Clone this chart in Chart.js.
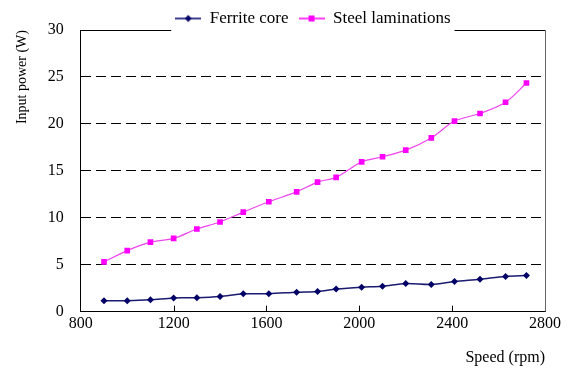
<!DOCTYPE html>
<html>
<head>
<meta charset="utf-8">
<script src="https://cdn.jsdelivr.net/npm/chart.js@4"></script>
<style>
  html, body { margin: 0; padding: 0; background: #fff; }
  #wrap { width: 571px; height: 369px; }
</style>
</head>
<body>
<div id="wrap"><canvas id="chart" width="571" height="369"></canvas></div>
<script>
const speeds = [900, 1000, 1100, 1200, 1300, 1400, 1500, 1610, 1730, 1820, 1900, 2010, 2100, 2200, 2310, 2410, 2520, 2630, 2720];
const ferriteCore = [1.15, 1.15, 1.25, 1.45, 1.47, 1.6, 1.9, 1.9, 2.07, 2.15, 2.4, 2.6, 2.7, 3.0, 2.9, 3.2, 3.45, 3.75, 3.85];
const steelLaminations = [5.3, 6.5, 7.4, 7.8, 8.8, 9.55, 10.6, 11.7, 12.75, 13.8, 14.3, 15.95, 16.5, 17.2, 18.5, 20.3, 21.1, 22.3, 24.35];
const xTicks = [800, 1200, 1600, 2000, 2400, 2800];
const yTicks = [0, 5, 10, 15, 20, 25, 30];

const serif = '"Liberation Serif", "Times New Roman", serif';

// legend icon: short line with the marker in the middle
function legendIcon(color, style) {
  const c = document.createElement('canvas');
  c.width = 26; c.height = 10;
  const g = c.getContext('2d');
  g.strokeStyle = color;
  g.lineWidth = 1.5;
  g.beginPath(); g.moveTo(0, 5); g.lineTo(26, 5); g.stroke();
  g.fillStyle = color;
  if (style === 'diamond') {
    g.beginPath(); g.moveTo(13, 1.5); g.lineTo(16.5, 5); g.lineTo(13, 8.5); g.lineTo(9.5, 5); g.closePath(); g.fill();
  } else {
    g.fillRect(10, 2, 6, 6);
  }
  return c;
}

function toPoints(ys) {
  return speeds.map((s, i) => ({ x: s, y: ys[i] }));
}

// legend overlaps the top edge of the plot, so keep its box short
const legendHeight = {
  id: 'legendHeight',
  afterInit(chart) {
    const lg = chart.legend;
    const fit = lg.fit;
    lg.fit = function () { fit.call(this); this.height = 30; };
  }
};

// box round the plot; top edge is broken where the legend sits
const frame = {
  id: 'frame',
  afterDatasetsDraw(chart) {
    const { ctx, chartArea: a } = chart;
    const xs = chart.scales.x;
    ctx.save();
    ctx.strokeStyle = '#000';
    ctx.lineWidth = 1;
    // inner x tick marks
    xTicks.slice(1, -1).forEach(v => {
      const px = Math.round(xs.getPixelForValue(v)) + 0.5;
      ctx.beginPath(); ctx.moveTo(px, a.bottom); ctx.lineTo(px, a.bottom - 6); ctx.stroke();
    });
    const boxes = chart.legend.legendHitBoxes;
    const gapL = boxes[0].left - 4;
    const last = boxes[boxes.length - 1];
    const gapR = last.left + last.width + 4;
    const top = Math.round(a.top) + 0.5;
    ctx.beginPath();
    ctx.moveTo(a.left, top); ctx.lineTo(gapL, top);
    ctx.moveTo(gapR, top); ctx.lineTo(a.right, top);
    ctx.stroke();
    ctx.strokeStyle = '#666';
    ctx.beginPath();
    ctx.moveTo(Math.round(a.right) + 0.5, a.top); ctx.lineTo(Math.round(a.right) + 0.5, a.bottom);
    ctx.stroke();
    ctx.restore();
  }
};

new Chart(document.getElementById('chart'), {
  type: 'line',
  data: {
    datasets: [{
      label: 'Ferrite core',
      data: toPoints(ferriteCore),
      borderColor: '#1a1a70',
      backgroundColor: '#000066',
      borderWidth: 1.5,
      pointStyle: 'rectRot',
      pointRadius: 3.5,
      pointBorderWidth: 0,
      tension: 0.3
    }, {
      label: 'Steel laminations',
      data: toPoints(steelLaminations),
      borderColor: '#ee44ee',
      backgroundColor: '#ff00ff',
      borderWidth: 1.2,
      pointStyle: 'rect',
      pointRadius: 4,
      pointBorderWidth: 0,
      tension: 0.3
    }]
  },
  plugins: [legendHeight, frame],
  options: {
    responsive: false,
    animation: false,
    layout: { padding: { left: 14, right: 26, top: 0, bottom: 2 } },
    plugins: {
      tooltip: { enabled: false },
      legend: {
        position: 'top',
        fullSize: false,
        labels: {
          font: { family: serif, size: 17 },
          color: '#000',
          usePointStyle: true,
          pointStyleWidth: 26,
          padding: 10,
          generateLabels(chart) {
            return [
              { text: 'Ferrite core', pointStyle: legendIcon('#000066', 'diamond'), datasetIndex: 0, hidden: false, lineWidth: 0 },
              { text: 'Steel laminations', pointStyle: legendIcon('#ff00ff', 'square'), datasetIndex: 1, hidden: false, lineWidth: 0 }
            ];
          }
        }
      }
    },
    scales: {
      x: {
        type: 'linear',
        min: 800,
        max: 2800,
        afterBuildTicks(scale) { scale.ticks = xTicks.map(v => ({ value: v })); },
        grid: { display: false, drawTicks: false },
        border: { display: true, color: '#000', width: 1 },
        ticks: {
          font: { family: serif, size: 16 },
          color: '#000',
          padding: 3,
          maxRotation: 0,
          callback: v => String(v)
        },
        title: {
          display: true,
          text: 'Speed (rpm)',
          align: 'end',
          font: { family: serif, size: 16 },
          color: '#000',
          padding: { top: 11, bottom: 0 }
        }
      },
      y: {
        min: 0,
        max: 30,
        afterBuildTicks(scale) { scale.ticks = yTicks.map(v => ({ value: v })); },
        grid: {
          drawTicks: false,
          color: ctx => (ctx.tick && (ctx.tick.value === 0 || ctx.tick.value === 30)) ? 'rgba(0,0,0,0)' : '#000',
          lineWidth: 1
        },
        border: { display: true, color: '#000', width: 1, dash: [10, 5] },
        ticks: {
          font: { family: serif, size: 16 },
          color: '#000',
          padding: 17,
          callback: v => String(v)
        },
        title: {
          display: true,
          text: 'Input power (W)',
          align: 'end',
          font: { family: serif, size: 14 },
          color: '#000',
          padding: { top: 0, bottom: 0 }
        }
      }
    }
  }
});
</script>
</body>
</html>
